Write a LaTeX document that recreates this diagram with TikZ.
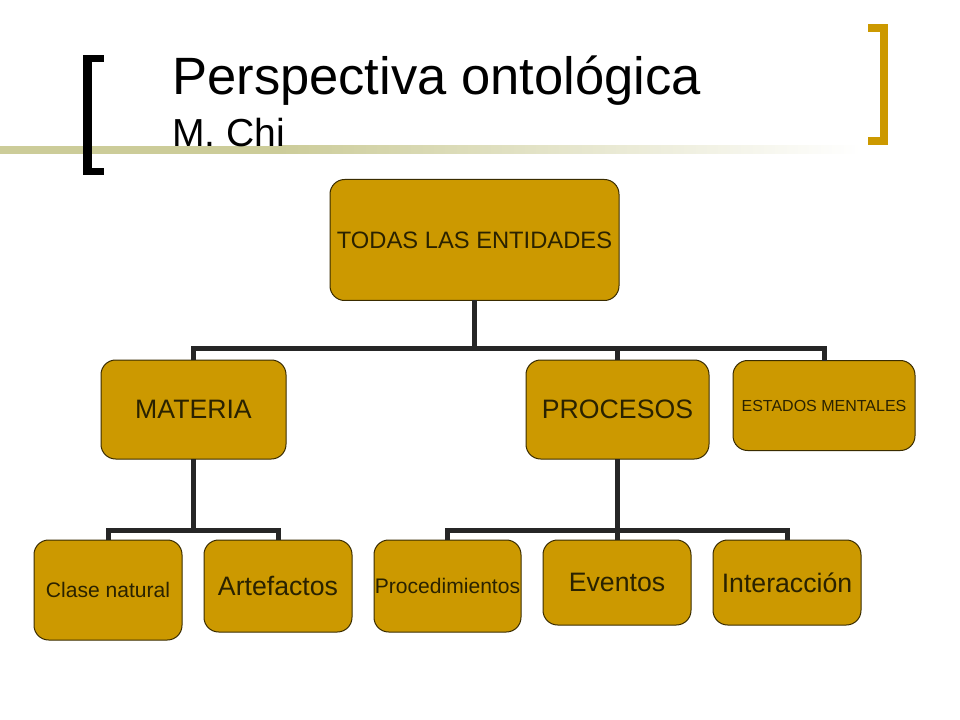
\documentclass[tikz,border=0pt]{standalone}
\usepackage{fontspec}
\setmainfont{Liberation Sans}
\usetikzlibrary{positioning}
\definecolor{gold}{HTML}{CC9900}
\definecolor{khaki}{HTML}{CCCC99}
\definecolor{boxline}{HTML}{3A2C00}
\definecolor{conncol}{HTML}{262626}
\definecolor{boxtext}{HTML}{2A2200}
\tikzset{
  entity/.style={draw=boxline, line width=0.75pt, fill=gold, rounded corners=11pt,
    inner sep=0pt, outer sep=0pt, align=center, text=boxtext},
  big/.style={font=\fontsize{20}{24}\selectfont},
  mid/.style={font=\fontsize{15.8}{19}\selectfont},
  conn/.style={draw=conncol, line width=3.75pt},
}
\begin{document}
\begin{tikzpicture}[x=0.75pt,y=-0.75pt]
\useasboundingbox (0,0) rectangle (960,720);
\fill[white] (0,0) rectangle (960,720);
% header bar
\fill[khaki] (0,146) rectangle (282,154);
\shade[left color=khaki, right color=white] (280,146) rectangle (860,154);
% brackets
\fill[black] (83,55) rectangle (92,175);
\fill[black] (83,55) rectangle (104,62);
\fill[black] (83,168) rectangle (104,175);
\fill[gold] (880,24) rectangle (888,145);
\fill[gold] (868,24) rectangle (888,32);
\fill[gold] (868,137) rectangle (888,145);
% titles
\node[anchor=base west, inner sep=0pt, font=\fontsize{39.4}{42}\selectfont] (title) at (172,95) {Perspectiva ontológica};
\node[anchor=base west, inner sep=0pt, font=\fontsize{29.3}{32}\selectfont] (sub) at (172,147) {M. Chi};
% boxes
\node[entity, minimum width=216.75pt, minimum height=90.75pt, font=\fontsize{17.8}{21}\selectfont] (top) at (474.5,240) {TODAS LAS ENTIDADES};
\node[entity, big, minimum width=138.75pt, minimum height=74.25pt] (mat) at (193.5,409.5) {MATERIA};
\node[entity, big, minimum width=137.25pt, minimum height=74.25pt] (pro) at (617.5,409.5) {PROCESOS};
\node[entity, minimum width=136.5pt, minimum height=67.5pt, font=\fontsize{12}{14}\selectfont] (est) at (824,405.5) {ESTADOS MENTALES};
\node[entity, mid, minimum width=111pt, minimum height=75pt] (cla) at (108,590) {Clase natural};
\node[entity, big, minimum width=111pt, minimum height=69pt] (art) at (278,586) {Artefactos};
\node[entity, mid, minimum width=110.25pt, minimum height=69pt] (prc) at (447.5,586) {Procedimientos};
\node[entity, big, minimum width=111pt, minimum height=63.75pt] (eve) at (617,582.5) {Eventos};
\node[entity, big, minimum width=111pt, minimum height=63.75pt] (int) at (787,582.5) {Interacción};
% junction levels
\coordinate (j1) at (0,348);
\coordinate (j2) at (0,530);
% connectors
\draw[conn] (top.south) -- (top.south |- j1);
\draw[conn] (mat.north) -- (mat.north |- j1) -- (est.north |- j1) -- (est.north);
\draw[conn] (pro.north) -- (pro.north |- j1);
\draw[conn] (mat.south) -- (mat.south |- j2);
\draw[conn] (cla.north) -- (cla.north |- j2) -- (art.north |- j2) -- (art.north);
\draw[conn] (pro.south) -- (pro.south |- j2);
\draw[conn] (prc.north) -- (prc.north |- j2) -- (int.north |- j2) -- (int.north);
\draw[conn] (eve.north) -- (eve.north |- j2);
\end{tikzpicture}
\end{document}
